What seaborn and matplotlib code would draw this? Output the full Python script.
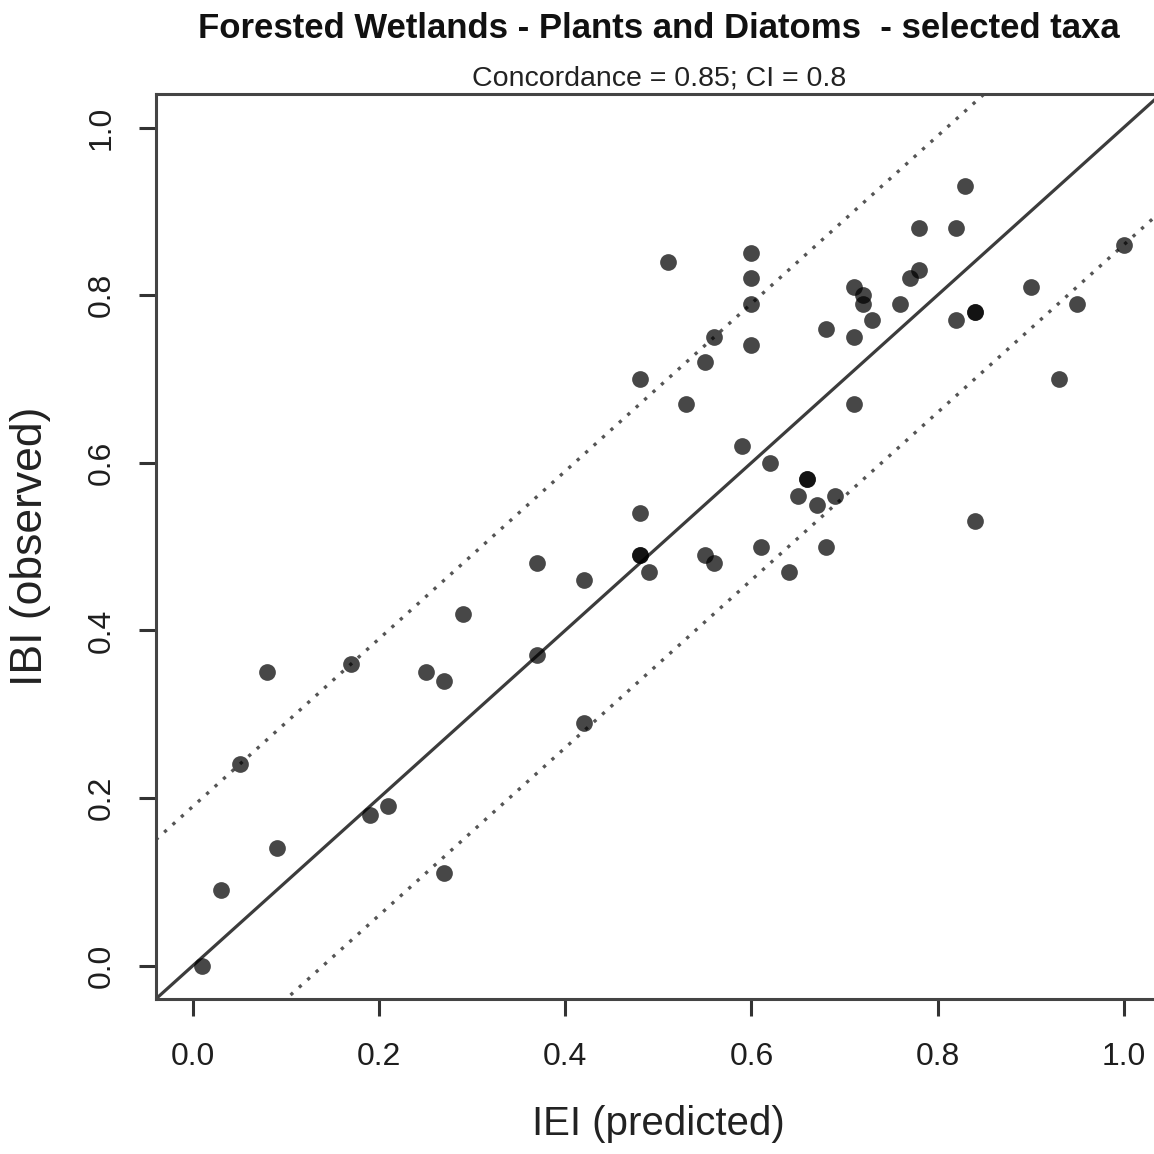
import matplotlib
matplotlib.use("Agg")
import matplotlib.pyplot as plt
import seaborn as sns
import pandas as pd
import numpy as np

# IEI (predicted) vs IBI (observed)
iei = [0.01, 0.03, 0.05, 0.08, 0.09, 0.17, 0.19, 0.21, 0.25, 0.27, 0.27, 0.29,
       0.37, 0.37, 0.42, 0.42, 0.48, 0.48, 0.48, 0.48, 0.49, 0.51, 0.53, 0.55,
       0.55, 0.56, 0.56, 0.59, 0.60, 0.60, 0.60, 0.60, 0.61, 0.62, 0.64, 0.65,
       0.66, 0.66, 0.67, 0.68, 0.68, 0.69, 0.71, 0.71, 0.71, 0.72, 0.72, 0.73,
       0.76, 0.77, 0.78, 0.78, 0.82, 0.82, 0.83, 0.84, 0.84, 0.84, 0.90, 0.93,
       0.95, 1.00]
ibi = [0.00, 0.09, 0.24, 0.35, 0.14, 0.36, 0.18, 0.19, 0.35, 0.34, 0.11, 0.42,
       0.48, 0.37, 0.46, 0.29, 0.70, 0.54, 0.49, 0.49, 0.47, 0.84, 0.67, 0.72,
       0.49, 0.75, 0.48, 0.62, 0.85, 0.82, 0.79, 0.74, 0.50, 0.60, 0.47, 0.56,
       0.58, 0.58, 0.55, 0.76, 0.50, 0.56, 0.81, 0.75, 0.67, 0.80, 0.79, 0.77,
       0.79, 0.82, 0.88, 0.83, 0.88, 0.77, 0.93, 0.78, 0.78, 0.53, 0.81, 0.70,
       0.79, 0.86]

upper_offset = 0.19
lower_offset = -0.14
ticks = [0.0, 0.2, 0.4, 0.6, 0.8, 1.0]

df = pd.DataFrame({"IEI": iei, "IBI": ibi})

sns.set_style("white")
plt.rcParams['font.family'] = ['Liberation Sans', 'DejaVu Sans']

fig = plt.figure(figsize=(11.54, 11.54), dpi=100)
ax = fig.add_axes([0.135, 0.1343, 0.871, 0.7842])

xlim = (-0.04, 1.04)
ax.set_xlim(xlim)
ax.set_ylim(-0.04, 1.04)

xx = np.array(xlim)
ax.plot(xx, xx, color="#3c3c3c", lw=2.3, zorder=1)
ax.plot(xx, xx + upper_offset, color="#555555", lw=2.4, ls=(0, (1, 2.4)), zorder=1)
ax.plot(xx, xx + lower_offset, color="#555555", lw=2.4, ls=(0, (1, 2.4)), zorder=1)

sns.scatterplot(data=df, x="IEI", y="IBI", ax=ax, color="black", alpha=0.72,
                s=145, linewidth=0, zorder=2)

ax.set_xticks(ticks)
ax.set_yticks(ticks)
ax.set_xticklabels([f"{t:.1f}" for t in ticks], fontsize=23)
ax.set_yticklabels([f"{t:.1f}" for t in ticks], fontsize=23, rotation=90, va="center")
ax.tick_params(axis="both", direction="out", length=12, width=2.2, color="#333333",
               labelcolor="#1e1e1e", bottom=True, left=True, top=False, right=False)
ax.tick_params(axis="x", pad=19)
ax.tick_params(axis="y", pad=16)

for side in ["left", "bottom", "top", "right"]:
    ax.spines[side].set_color("#444444")
    ax.spines[side].set_linewidth(2.2)

ax.set_xlabel("IEI (predicted)", fontsize=29, color="#222222", labelpad=24)
ax.set_ylabel("IBI (observed)", fontsize=32, color="#222222", labelpad=26)

fig.text(0.571, 0.975, "Forested Wetlands - Plants and Diatoms  - selected taxa",
         ha="center", va="center", fontsize=25, fontweight="bold", color="#111111")
fig.text(0.571, 0.932, "Concordance = 0.85; CI = 0.8", ha="center", va="center",
         fontsize=20.5, color="#222222")

fig.savefig("out.png", dpi=100)
